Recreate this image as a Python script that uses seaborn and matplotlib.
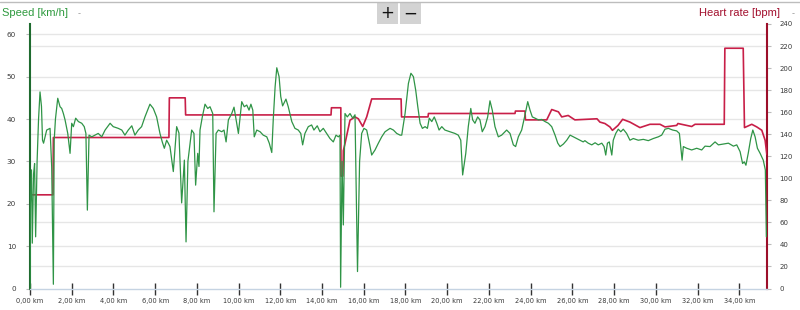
import matplotlib
matplotlib.use("Agg")
import matplotlib.pyplot as plt
import matplotlib.transforms as mtransforms
import seaborn as sns
import pandas as pd

# ---------------- data ----------------
speed_km = [0.00, 0.02, 0.07, 0.11, 0.17, 0.22, 0.27, 0.34, 0.41, 0.48, 0.55, 0.60, 0.65, 0.80, 0.96,
            1.04, 1.12, 1.16, 1.22, 1.33, 1.44, 1.52, 1.60, 1.68, 1.81, 1.92, 2.00, 2.08, 2.19, 2.32,
            2.48, 2.60, 2.68, 2.75, 2.83, 2.96, 3.12, 3.27, 3.44, 3.60, 3.84, 3.99, 4.23, 4.40, 4.55,
            4.71, 4.88, 5.03, 5.19, 5.35, 5.51, 5.75, 5.91, 6.07, 6.23, 6.34, 6.44, 6.55, 6.63, 6.71,
            6.87, 7.03, 7.14, 7.27, 7.40, 7.48, 7.57, 7.75, 7.86, 7.94, 8.04, 8.10, 8.15, 8.26, 8.39,
            8.52, 8.63, 8.76, 8.82, 8.92, 9.03, 9.19, 9.30, 9.40, 9.51, 9.67, 9.78, 9.88, 9.99, 10.15,
            10.27, 10.39, 10.50, 10.59, 10.68, 10.75, 10.87, 11.03, 11.18, 11.35, 11.47, 11.59, 11.66,
            11.75, 11.83, 11.94, 12.02, 12.11, 12.27, 12.38, 12.55, 12.70, 12.86, 12.98, 13.07, 13.18,
            13.34, 13.50, 13.61, 13.77, 13.90, 14.06, 14.22, 14.38, 14.54, 14.67, 14.78, 14.86, 14.89,
            14.96, 15.02, 15.10, 15.21, 15.34, 15.47, 15.58, 15.70, 15.80, 15.90, 16.01, 16.14, 16.27,
            16.38, 16.54, 16.70, 16.86, 17.02, 17.26, 17.42, 17.58, 17.74, 17.82, 17.98, 18.14, 18.26,
            18.38, 18.49, 18.59, 18.70, 18.81, 18.94, 19.05, 19.14, 19.26, 19.38, 19.50, 19.61, 19.74,
            19.89, 20.13, 20.37, 20.53, 20.65, 20.74, 20.89, 21.01, 21.13, 21.22, 21.33, 21.46, 21.57,
            21.68, 21.81, 21.94, 22.05, 22.16, 22.29, 22.45, 22.61, 22.85, 23.01, 23.17, 23.28, 23.41,
            23.57, 23.73, 23.86, 23.97, 24.08, 24.21, 24.37, 24.53, 24.69, 24.85, 25.01, 25.17, 25.30,
            25.41, 25.57, 25.73, 25.89, 26.05, 26.28, 26.52, 26.60, 26.76, 26.93, 27.09, 27.24, 27.41,
            27.52, 27.60, 27.68, 27.77, 27.89, 27.96, 28.08, 28.20, 28.32, 28.44, 28.60, 28.76, 28.92,
            29.16, 29.40, 29.64, 29.88, 30.12, 30.28, 30.44, 30.60, 30.81, 31.00, 31.13, 31.21, 31.26,
            31.32, 31.48, 31.72, 31.96, 32.20, 32.36, 32.60, 32.84, 33.00, 33.24, 33.48, 33.72, 33.88,
            34.04, 34.16, 34.24, 34.32, 34.43, 34.55, 34.65, 34.76, 34.87, 35.00, 35.15, 35.25, 35.30]
speed_kmh = [0, 20, 28, 10.7, 27, 29.5, 12.2, 30, 40, 46.4, 43, 35, 34.3, 37.4, 37.8,
             28.7, 1, 35, 40, 44.9, 42.9, 42.5, 41.3, 39.8, 36.6, 31.9, 39, 38.2, 40.2, 39.4,
             39, 38.2, 36.6, 18.5, 36.2, 35.8, 36.2, 36.6, 35.8, 37.4, 39, 38.2, 37.8, 37.4, 36.2,
             37.4, 38.4, 36.2, 37.4, 38.2, 40.5, 43.5, 42.5, 40.5, 36.6, 34.6, 33.1, 35, 34.3, 33.5,
             27.6, 38.2, 36.7, 20.2, 30.3, 11, 30, 37.4, 36.6, 24.4, 31.9, 28.8, 37.4, 40.5, 43.5,
             42.5, 42.9, 41.3, 18.1, 36.6, 37.4, 37, 37.4, 34.6, 39.8, 41.3, 42.8, 39.8, 36.6, 44.1,
             42.9, 43.3, 42.1, 43.5, 42.1, 35.8, 37.4, 37, 36.2, 35.8, 34.3, 32.1, 39.8,
             47.6, 52.1, 50, 45.3, 43.1, 44.7, 42.9, 39.4, 37.8, 37.4, 36.6, 33.9, 36.6,
             38.2, 38.6, 37.4, 38.4, 37, 37.8, 36.6, 35.4, 34.6, 36.2, 35.8, 36.2, 0.3,
             30, 15, 41.3, 40.5, 41.3, 40.2, 41, 4, 30, 36.6, 37.8, 37.4, 34.3,
             31.5, 32.7, 34.3, 35.8, 37, 37.8, 37.4, 36.6, 36.2, 36.2, 41.3, 48.4, 50.8,
             50, 46.8, 42.9, 39, 37.8, 38.2, 37.8, 40.2, 39.4, 40.5, 39, 37.4, 38.2,
             37.4, 37, 36.6, 36.2, 35, 26.8, 31.9, 38.2, 42.5, 39.8, 39, 40.5, 39.8,
             37, 38.2, 40.5, 44.3, 42.1, 38.2, 35.8, 36.2, 37.4, 36.6, 33.9, 33.5, 35.8,
             37.4, 41, 44.1, 42.1, 40.5, 40.2, 39.8, 39.9, 39.4, 39, 38.2, 36.2, 34.3,
             33.5, 34.1, 35, 36.2, 35.8, 35.2, 34.6, 34.9, 34.3, 33.9, 34.4, 33.9, 34.3,
             33.5, 31.5, 34.3, 34.6, 31.5, 35, 36.6, 37.6, 37, 37.6, 36.6, 35, 35.4,
             35, 35.2, 34.9, 35.4, 35.8, 36.2, 37.6, 37.8, 37.4, 37.2, 36.6, 32.7, 30.3,
             33.5, 33.1, 32.7, 33.1, 32.7, 33.6, 33.5, 34.6, 33.9, 34.1, 34.3, 33.6, 33.9,
             32.3, 29.5, 29.9, 29.1, 31.9, 35.4, 37.4, 35.8, 33.1, 31.9, 30.3, 28, 12.2]

hr_km = [0.00, 1.10, 1.12, 6.66, 6.68, 7.44, 7.46, 14.43, 14.45, 14.90, 14.91, 15.00, 15.02,
         15.10, 15.34, 15.58, 15.74, 15.95, 16.14, 16.38, 17.79, 17.81, 19.08, 19.10, 23.25,
         23.27, 23.73, 23.75, 24.77, 25.01, 25.33, 25.49, 25.80, 26.12, 27.18, 27.32, 27.56,
         27.80, 27.92, 28.19, 28.41, 28.76, 29.24, 29.72, 30.20, 30.44, 31.00, 31.06, 31.72,
         31.88, 33.28, 33.31, 34.19, 34.25, 34.60, 34.84, 35.08, 35.24, 35.32]
hr_bpm = [85, 85, 137, 137, 173, 173, 157.5, 157.5, 164, 164, 102, 102, 125,
          131.5, 152.7, 155.7, 154, 147, 155.7, 172, 172, 155.7, 155.7, 158.8, 158.8,
          161, 161, 153, 153, 162.4, 160.3, 155.7, 157, 153, 154, 151, 149.7,
          146.6, 143.5, 148, 153.5, 151, 146, 149, 149, 146.6, 148, 149.7, 147,
          149, 149, 218, 218, 146, 149, 146.6, 143.6, 134.5, 122]

x_ticks = list(range(0, 35, 2))
x_labels = [f"{t},00 km" for t in x_ticks]
speed_ticks = [0, 10, 20, 30, 40, 50, 60]
hr_ticks = [0, 20, 40, 60, 80, 100, 120, 140, 160, 180, 200, 220, 240]
hr_grid = [20, 60, 100, 140, 180, 220]

# ---------------- style ----------------
sns.set_theme(style="white")
plt.rcParams["font.family"] = ["DejaVu Sans"]

GREEN = "#2f9446"
GREEN_DARK = "#1f6b2f"
RED = "#c81f48"
RED_DARK = "#9c0f2a"
GRID = "#e6e6e6"
TICKTXT = "#3a3a3a"

fig = plt.figure(figsize=(8.0, 3.1), dpi=100)
ax = fig.add_axes([30 / 800, 21.5 / 310, 737 / 800, 264.5 / 310])
ax2 = ax.twinx()

speed_df = pd.DataFrame({"km": speed_km, "speed": speed_kmh})
hr_df = pd.DataFrame({"km": hr_km, "hr": hr_bpm})

ax.set_xlim(0, 35.33)
ax.set_ylim(0, 62.43)
ax2.set_ylim(0, 240)

# the heart-rate axes sits underneath; all grid lines are drawn there
ax2.set_zorder(ax.get_zorder() - 1)
ax.patch.set_visible(False)

speed_grid_tr = mtransforms.blended_transform_factory(ax2.transAxes, ax.transData)
for v in speed_ticks[1:]:
    ax2.plot([0, 1], [v, v], color=GRID, lw=1.0, transform=speed_grid_tr, zorder=0)
for v in hr_grid:
    ax2.axhline(v, color=GRID, lw=1.0, zorder=0)

sns.lineplot(data=hr_df, x="km", y="hr", ax=ax2, color=RED, lw=1.2, sort=False,
             estimator=None, legend=False, zorder=3)
sns.lineplot(data=speed_df, x="km", y="speed", ax=ax, color=GREEN, lw=0.9, sort=False,
             estimator=None, legend=False, zorder=4)

# axes cosmetics
ax.set_xlabel("")
ax.set_ylabel("")
ax2.set_xlabel("")
ax2.set_ylabel("")
ax.set_xticks(x_ticks)
ax.set_xticklabels(x_labels, fontsize=4.8, color=TICKTXT)
ax.set_yticks(speed_ticks)
ax.set_yticklabels([str(t) for t in speed_ticks], fontsize=5.2, color=TICKTXT)
ax2.set_yticks(hr_ticks)
ax2.set_yticklabels([str(t) for t in hr_ticks], fontsize=5.0, color=TICKTXT)

ax.tick_params(axis="x", bottom=True, direction="inout", length=8, width=1.0,
               color="#333333", pad=3)
ax.tick_params(axis="y", left=True, direction="out", length=3, width=0.8,
               color="#bbbbbb", pad=7)
ax2.tick_params(axis="y", right=True, direction="out", length=3, width=0.8,
                color="#bbbbbb", pad=6)

for a in (ax, ax2):
    a.spines["top"].set_visible(False)
ax.spines["right"].set_visible(False)
ax2.spines["left"].set_visible(False)
ax2.spines["bottom"].set_visible(False)
ax.spines["left"].set_color(GREEN_DARK)
ax.spines["left"].set_linewidth(1.5)
ax2.spines["right"].set_color(RED_DARK)
ax2.spines["right"].set_linewidth(1.5)
ax.spines["bottom"].set_color("#c5d3e2")
ax.spines["bottom"].set_linewidth(1.0)

# header: top border, titles, zoom buttons
fig.add_artist(plt.Line2D([0, 1], [1 - 2 / 310, 1 - 2 / 310], color="#bdbdbd", lw=1.0))
fig.text(2 / 800, 1 - 13 / 310, "Speed [km/h]", color="#2e9a3e", fontsize=8,
         family=["Liberation Sans", "DejaVu Sans"], ha="left", va="center")
fig.text(79 / 800, 1 - 14 / 310, "-", color="#999999", fontsize=6, ha="center", va="center")
fig.text(780 / 800, 1 - 13 / 310, "Heart rate [bpm]", color="#a3102e", fontsize=8,
         family=["Liberation Sans", "DejaVu Sans"], ha="right", va="center")
fig.text(793 / 800, 1 - 14 / 310, "-", color="#999999", fontsize=6, ha="center", va="center")

for x0, sym in ((377, "+"), (400, "\u2212")):
    fig.add_artist(plt.Rectangle((x0 / 800, 1 - 24 / 310), 21 / 800, 21 / 310,
                                 facecolor="#d3d3d3", edgecolor="none", transform=fig.transFigure))
    fig.text((x0 + 10.5) / 800, 1 - 13.5 / 310, sym, color="#111111", fontsize=12,
             ha="center", va="center")

fig.savefig("out.png", dpi=100)
